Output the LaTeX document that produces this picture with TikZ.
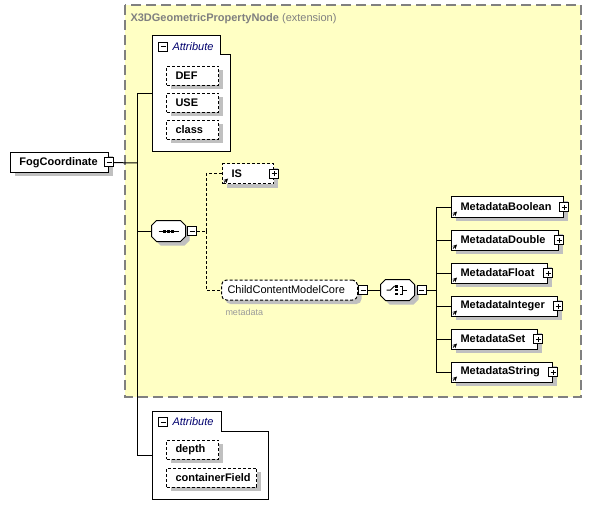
\documentclass[tikz,border=0pt]{standalone}
\usepackage{fontspec}
\setmainfont{Liberation Sans}
\usepackage{tikz}
\usetikzlibrary{arrows, shadows}
\definecolor{extfill}{RGB}{255,255,196}
\definecolor{extline}{RGB}{128,128,128}
\definecolor{shadegray}{RGB}{192,192,192}
\definecolor{attrtext}{RGB}{0,0,110}
\newcommand{\dfont}{\fontsize{11}{13}\selectfont}
\tikzstyle{shade} = [drop shadow={shadow xshift=4pt, shadow yshift=-4pt, fill=shadegray, opacity=1}]
\tikzstyle{elem} = [rectangle, draw=black, fill=white, anchor=west, align=left, minimum height=20pt, inner xsep=9pt, inner ysep=0pt, font=\dfont\bfseries, shade]
\tikzstyle{opt} = [elem, dash pattern=on 3pt off 2pt]
\tikzstyle{attritem} = [opt, minimum height=19pt]
\tikzstyle{group} = [rectangle, minimum height=20pt, inner sep=0pt]
\tikzstyle{holder} = [rectangle, inner sep=0pt, anchor=north west]
\tikzstyle{dashline} = [dash pattern=on 3pt off 2pt]
\tikzstyle{refarrow} = [line width=1pt, ->, >=stealth]
\tikzset{minus/.style={rectangle, draw=black, fill=white, minimum size=9pt, inner sep=0pt,
           path picture={\draw ([xshift=2pt]path picture bounding box.west) -- ([xshift=-2pt]path picture bounding box.east);}},
         plus/.style={rectangle, draw=black, fill=white, minimum size=9pt, inner sep=0pt,
           path picture={\draw ([xshift=2pt]path picture bounding box.west) -- ([xshift=-2pt]path picture bounding box.east);
                         \draw ([yshift=2pt]path picture bounding box.south) -- ([yshift=-2pt]path picture bounding box.north);}},
         attrhead/.style={anchor=west, inner sep=0pt, text=attrtext, font=\dfont\itshape}
}
\newcommand{\refmark}[1]{\draw[refarrow] ([shift={(2,-2)}]#1.south west) -- ++(4,-4);}
\newcommand{\octagon}[1]{\draw[fill=white, shade] ([xshift=5pt]#1.north west) -- ([xshift=-5pt]#1.north east) -- ([yshift=-5pt]#1.north east) -- ([yshift=5pt]#1.south east) -- ([xshift=-5pt]#1.south east) -- ([xshift=5pt]#1.south west) -- ([yshift=5pt]#1.south west) -- ([yshift=-5pt]#1.north west) -- cycle;}

\begin{document}
\begin{tikzpicture}[x=1pt, y=-1pt, line width=1pt]
\useasboundingbox (0,0) rectangle (592,516);

% extension area
\draw[extline, fill=extfill, line width=1.2pt, dash pattern=on 10pt off 5pt] (125,5) rectangle (581,397);
\node[anchor=base west, inner sep=0pt, text=extline, font=\dfont] (ext) at (130,22) {\textbf{X3DGeometricPropertyNode} (extension)};

% root element
\node (fog) [elem, text width=80pt] at (10,162.5) {FogCoordinate};
\node (fogm) [minus] at (fog.east) {};
\coordinate (trunk) at (137,163);

% first attribute group
\node (attr1) [holder, minimum width=77pt, minimum height=115pt] at (152,36) {};
\draw[fill=white] (attr1.north west) -- ++(68,0) -- ++(0,19) -| (attr1.south east) -- (attr1.south west) -- cycle;
\node (attr1m) [minus] at ([shift={(11,11)}]attr1.north west) {};
\node [attrhead] at ([xshift=4pt]attr1m.east) {Attribute};
\node (def) [attritem, text width=34pt] at (166,76) {DEF};
\node (use) [attritem, text width=34pt] at (166,103) {USE};
\node (cls) [attritem, text width=34pt] at (166,130) {class};

% sequence
\node (seq) [group, minimum width=33pt] at (168.5,231) {};
\octagon{seq}
\draw ([xshift=-10pt]seq.center) -- ([xshift=10pt]seq.center);
\fill ([shift={(-5.5,-1.5)}]seq.center) rectangle ++(3,3);
\fill ([shift={(-1.5,-1.5)}]seq.center) rectangle ++(3,3);
\fill ([shift={(2.5,-1.5)}]seq.center) rectangle ++(3,3);
\node (seqm) [minus] at ([xshift=6.5pt]seq.east) {};
\coordinate (fork) at (206,231);

\node (is) [opt, text width=33pt] at (222,174) {IS};
\node (ism) [plus] at (is.east) {};
\refmark{is}

\node (core) [opt, rounded corners=5pt, inner xsep=6pt, text width=124pt, font=\dfont] at (221,290) {ChildContentModelCore};
\node (corem) [minus] at ([xshift=5pt]core.east) {};
\node [anchor=west, inner sep=0pt, text=extline!80, font=\fontsize{9}{11}\selectfont] at ([shift={(4,12)}]core.south west) {metadata};

% choice
\node (choice) [group, minimum width=33pt] at (397.5,290) {};
\octagon{choice}
\draw (choice.center) ++(-11,0) -- ++(4,0) -- ++(4,-4);
\fill ([shift={(-2.5,-5)}]choice.center) rectangle ++(2.5,2.5);
\fill ([shift={(-2.5,-1.25)}]choice.center) rectangle ++(2.5,2.5);
\fill ([shift={(-2.5,2.5)}]choice.center) rectangle ++(2.5,2.5);
\draw (choice.center) ++(2,-4) -- ++(3,0) -- ++(0,8) -- ++(-3,0);
\draw (choice.center) ++(5,0) -- ++(4,0);
\node (choicem) [minus] at ([xshift=7pt]choice.east) {};
\coordinate (fork2) at (436,290);

% metadata elements
\node (mbool) [elem, text width=94pt] at (451,207) {MetadataBoolean};
\node (mdouble) [elem, text width=89pt] at (451,240) {MetadataDouble};
\node (mfloat) [elem, text width=78pt] at (451,273) {MetadataFloat};
\node (mint) [elem, text width=88pt] at (451,306) {MetadataInteger};
\node (mset) [elem, text width=68pt] at (451,339) {MetadataSet};
\node (mstring) [elem, text width=83pt] at (451,372) {MetadataString};
\node [plus] at (mbool.east) {};
\node [plus] at (mdouble.east) {};
\node [plus] at (mfloat.east) {};
\node [plus] at (mint.east) {};
\node [plus] at (mset.east) {};
\node [plus] at (mstring.east) {};
\refmark{mbool}
\refmark{mdouble}
\refmark{mfloat}
\refmark{mint}
\refmark{mset}
\refmark{mstring}

% second attribute group
\node (attr2) [holder, minimum width=115pt, minimum height=87pt] at (152,411) {};
\draw[fill=white] (attr2.north west) -- ++(69,0) -- ++(0,20) -| (attr2.south east) -- (attr2.south west) -- cycle;
\node (attr2m) [minus] at ([shift={(11,11)}]attr2.north west) {};
\node [attrhead] at ([xshift=4pt]attr2m.east) {Attribute};
\node (depth) [attritem, text width=34pt] at (166,449.5) {depth};
\node (cfield) [attritem, text width=72pt] at (166,477.5) {containerField};

% connectors
\draw (fogm) -- (trunk);
\draw (trunk) |- (attr1.west);
\draw (trunk) |- (seq.west);
\draw (trunk) |- (attr2.west);
\draw[dashline] (seqm) -- (fork);
\draw[dashline] (fork) |- (is.west);
\draw[dashline] (fork) |- (core.west);
\draw (corem) -- (choice);
\draw (choicem) -- (fork2);
\draw (fork2) |- (mbool.west);
\draw (fork2) |- (mdouble.west);
\draw (fork2) |- (mfloat.west);
\draw (fork2) |- (mint.west);
\draw (fork2) |- (mset.west);
\draw (fork2) |- (mstring.west);
\end{tikzpicture}
\end{document}
